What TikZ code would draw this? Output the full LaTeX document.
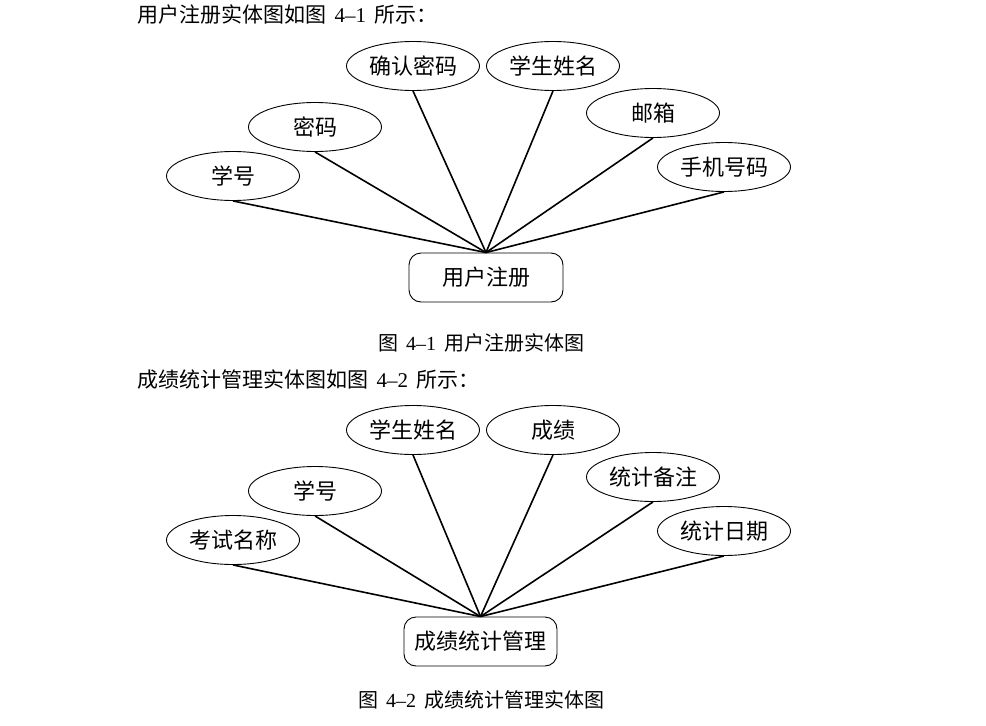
\documentclass[tikz,border=0pt]{standalone}
\usepackage{fontspec}
\setmainfont{Noto Sans CJK SC}
\newfontfamily\lat{Liberation Serif}
\newcommand{\fignum}[1]{{\lat\hspace{0.4em}#1\hspace{0.4em}}}
\usetikzlibrary{shapes.geometric}
\tikzset{
  attr/.style={ellipse,draw,line width=0.9pt,minimum width=133pt,minimum height=49pt,inner sep=0pt,font=\fontsize{22}{26}\selectfont},
  ent/.style={rectangle,draw,rounded corners=12pt,line width=0.9pt,minimum height=49pt,inner sep=0pt,font=\fontsize{22}{26}\selectfont},
  link/.style={line width=1.6pt},
  head/.style={font=\fontsize{21}{24}\selectfont,inner sep=0pt},
  capt/.style={font=\fontsize{20}{23}\selectfont,inner sep=0pt}
}
\begin{document}
\begin{tikzpicture}[x=1pt,y=-1pt]
\useasboundingbox (0,0) rectangle (986,726);
% heading 1
\node[head,anchor=west] (h1) at (137,15) {用户注册实体图如图\fignum{4–1}所示：};
\node[attr] (a1) at (413,66) {确认密码};
\node[attr] (a2) at (553,66) {学生姓名};
\node[attr] (a3) at (315,127) {密码};
\node[attr] (a4) at (233,176) {学号};
\node[attr] (a5) at (653,113) {邮箱};
\node[attr] (a6) at (724,167) {手机号码};
\node[ent,minimum width=154pt] (e1) at (486,277.5) {用户注册};
\foreach \n in {a1,a2,a3,a4,a5,a6} \draw[link] (\n.south) -- (e1.north);
\node[capt] (c1) at (481,343) {图\fignum{4–1}用户注册实体图};
% heading 2
\node[head,anchor=west] (h2) at (137,380) {成绩统计管理实体图如图\fignum{4–2}所示：};
\node[attr] (b1) at (413,430) {学生姓名};
\node[attr] (b2) at (553,430) {成绩};
\node[attr] (b3) at (315,491) {学号};
\node[attr] (b4) at (233,540) {考试名称};
\node[attr] (b5) at (653,477) {统计备注};
\node[attr] (b6) at (724,531) {统计日期};
\node[ent,minimum width=153pt] (e2) at (480.5,641.5) {成绩统计管理};
\foreach \n in {b1,b2,b3,b4,b5,b6} \draw[link] (\n.south) -- (e2.north);
\node[capt] (c2) at (481,700) {图\fignum{4–2}成绩统计管理实体图};
\end{tikzpicture}
\end{document}
